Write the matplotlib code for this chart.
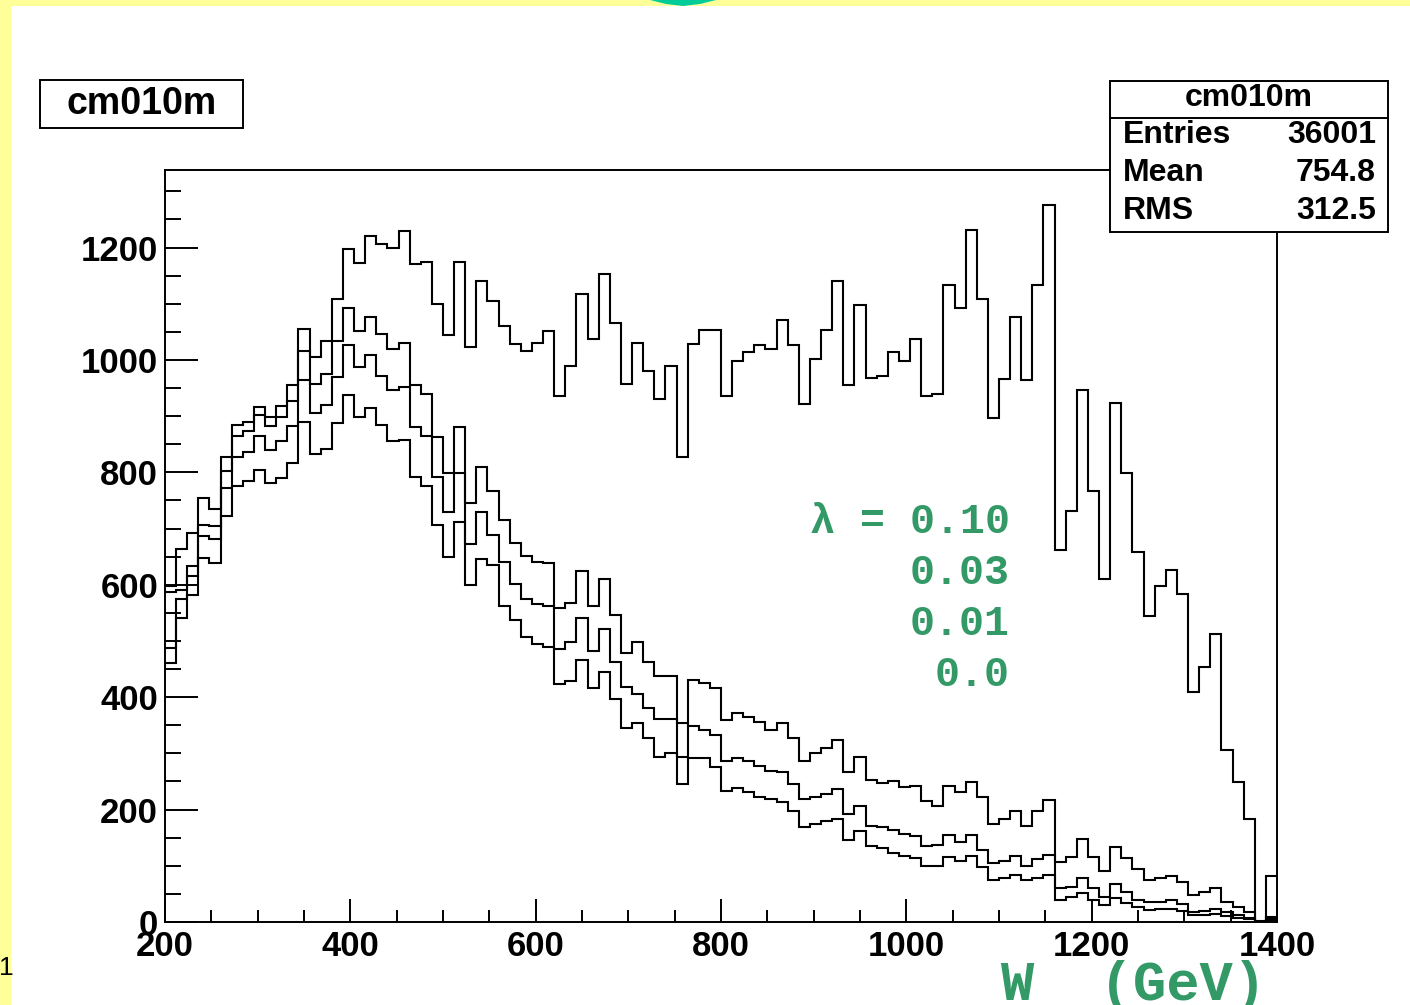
import numpy as np
import matplotlib
matplotlib.use('Agg')
import matplotlib.pyplot as plt
from matplotlib.patches import Rectangle, Polygon
from matplotlib.lines import Line2D
from matplotlib.ticker import MultipleLocator

# ---------------- data ----------------
bin_edges = np.arange(200, 1401, 12)   # 100 bins of 12 GeV

lam_010 = [597, 664, 693, 754, 735, 828, 884, 890, 917, 899, 918, 956, 1055, 1006, 1034, 1108,
           1197, 1172, 1221, 1207, 1199, 1230,
           1170, 1175, 1100, 1045, 1175, 1023, 1140, 1105, 1061, 1028, 1016, 1031,
           1052, 936, 990, 1118, 1037, 1153, 1066, 958, 1031, 980, 930, 989, 827, 1028, 1054, 1054,
           936, 998, 1015, 1026, 1019, 1072, 1026, 921, 1002, 1054, 1140, 955, 1098, 968, 971, 1015,
           998, 1037, 936, 939, 1133, 1092, 1232, 1109, 897, 967,
           1077, 965, 1133, 1275, 661, 731, 946, 766, 611, 923, 799, 659, 544, 598, 626, 583,
           410, 454, 513, 306, 249, 183, 2, 81]
lam_003 = [588, 591, 634, 707, 704, 802, 864, 873, 902, 882, 898, 927, 1016, 957, 975, 1033,
           1092, 1052, 1077, 1046, 1020, 1030,
           956, 940, 863, 799, 881, 745, 809, 767, 716, 675, 651, 641,
           638, 559, 568, 624, 563, 611, 546, 478, 498, 463, 437, 438, 245, 430, 426, 416,
           360, 371, 364, 355, 342, 354, 328, 286, 301, 310, 323, 266, 294, 253, 247, 251,
           240, 242, 216, 207, 242, 231, 249, 223, 175, 183,
           198, 170, 197, 217, 107, 116, 148, 116, 91, 133, 113, 95, 75, 78, 81, 72,
           48, 53, 60, 36, 27, 18, 0, 9]
lam_001 = [488, 574, 616, 686, 681, 772, 828, 837, 864, 840, 855, 883, 964, 905, 920, 970,
           1026, 987, 1008, 972, 947, 952,
           881, 864, 792, 729, 799, 673, 729, 688, 641, 601, 575, 566,
           562, 486, 498, 541, 482, 521, 463, 419, 406, 380, 362, 362, 354, 349, 342, 332,
           286, 291, 286, 277, 268, 266, 245, 218, 223, 227, 236, 192, 207, 170, 169, 163,
           157, 153, 135, 137, 155, 142, 155, 128, 105, 109,
           118, 100, 112, 120, 60, 63, 78, 60, 45, 68, 54, 40, 36, 36, 39, 32,
           18, 20, 23, 17, 12, 8, 0, 7]
lam_000 = [461, 541, 582, 648, 639, 723, 775, 784, 805, 781, 790, 816, 889, 833, 841, 887,
           937, 899, 915, 884, 855, 857,
           792, 775, 706, 649, 712, 599, 646, 635, 563, 537, 507, 495,
           489, 424, 428, 466, 417, 445, 396, 345, 354, 328, 293, 301, 293, 291, 291, 275,
           233, 238, 231, 223, 218, 214, 197, 169, 175, 179, 183, 146, 162, 135, 131, 122,
           118, 114, 100, 100, 116, 109, 118, 98, 74, 79,
           83, 74, 78, 84, 39, 44, 51, 39, 30, 42, 33, 27, 21, 23, 23, 20,
           12, 12, 14, 11, 8, 5, 0, 4]

x_ticks = [200, 400, 600, 800, 1000, 1200, 1400]
y_ticks = [0, 200, 400, 600, 800, 1000, 1200]
hist_name = 'cm010m'
stats_labels = ['Entries', 'Mean', 'RMS']
stats_values = ['36001', '754.8', '312.5']
lambda_labels = ['\u03bb = 0.10', '0.03', '0.01', '0.0']
x_title = 'W  (GeV)'

# ---------------- figure ----------------
W, H = 1410, 1005
fig = plt.figure(figsize=(W / 100, H / 100), dpi=100)
fig.patch.set_facecolor('white')

SANS = ['Liberation Sans', 'DejaVu Sans']
MONO = ['Liberation Mono', 'DejaVu Sans Mono']
GREEN = '#339966'

ax = fig.add_axes([165 / W, 1 - 922 / H, (1277 - 165) / W, (922 - 170) / H])
ax.set_zorder(1)
for series in (lam_010, lam_003, lam_001, lam_000):
    ax.stairs(series, bin_edges, color='black', lw=1.5, baseline=None)

ax.set_xlim(200, 1400)
ax.set_ylim(0, 1338)
ax.set_xticks(x_ticks)
ax.set_yticks(y_ticks)
ax.xaxis.set_minor_locator(MultipleLocator(50))
ax.yaxis.set_minor_locator(MultipleLocator(50))
for sp in ax.spines.values():
    sp.set_linewidth(1.4)
ax.tick_params(which='both', direction='in', top=False, right=False, width=1.4)
ax.tick_params(axis='y', which='major', length=24, pad=5)
ax.tick_params(axis='y', which='minor', length=11.5)
ax.tick_params(axis='x', which='major', length=16.5, pad=6)
ax.tick_params(axis='x', which='minor', length=8.5)
for lab in ax.get_xticklabels() + ax.get_yticklabels():
    lab.set_fontfamily(SANS)
    lab.set_fontweight('bold')
    lab.set_fontsize(25)

# ---------------- overlay (pixel coordinates) ----------------
ov = fig.add_axes([0, 0, 1, 1])
ov.set_zorder(5)
ov.set_xlim(0, W)
ov.set_ylim(H, 0)
ov.axis('off')

YELLOW = '#FFFF99'
ov.add_patch(Rectangle((0, 0), 11, H, fc=YELLOW, ec='none'))
ov.add_patch(Rectangle((0, 0), W, 6, fc=YELLOW, ec='none'))
ov.add_patch(Polygon([(650, 0), (716, 0), (700, 4), (683, 6), (666, 4)],
                     closed=True, fc='#00CC99', ec='none'))

# title box
ov.add_patch(Rectangle((40, 80), 203, 48, fc='white', ec='black', lw=1.4))
ov.text(141.5, 104, hist_name, ha='center', va='center', family=SANS,
        weight='bold', size=27)

# stats box
ov.add_patch(Rectangle((1110, 81), 278, 151, fc='white', ec='black', lw=1.4))
ov.add_line(Line2D([1110, 1388], [118, 118], color='black', lw=1.4))
ov.text(1249, 98, hist_name, ha='center', va='center', family=SANS,
        weight='bold', size=23)
for i, (lab, val) in enumerate(zip(stats_labels, stats_values)):
    yy = 135 + 38 * i
    ov.text(1123, yy, lab, ha='left', va='center', family=SANS, weight='bold', size=23)
    ov.text(1376, yy, val, ha='right', va='center', family=SANS, weight='bold', size=23)

# lambda annotation
for i, s in enumerate(lambda_labels):
    ov.text(1010, 522 + 51 * i, s, ha='right', va='center', family=MONO,
            weight='bold', size=30, color=GREEN)

# x title
ov.text(1000, 1000, x_title, ha='left', va='baseline', family=MONO,
        weight='bold', size=40, color=GREEN)

# page number
ov.text(-1, 968, '1', ha='left', va='center', family=SANS, size=19, color='black')

fig.savefig('out.png', dpi=100, facecolor='white')
